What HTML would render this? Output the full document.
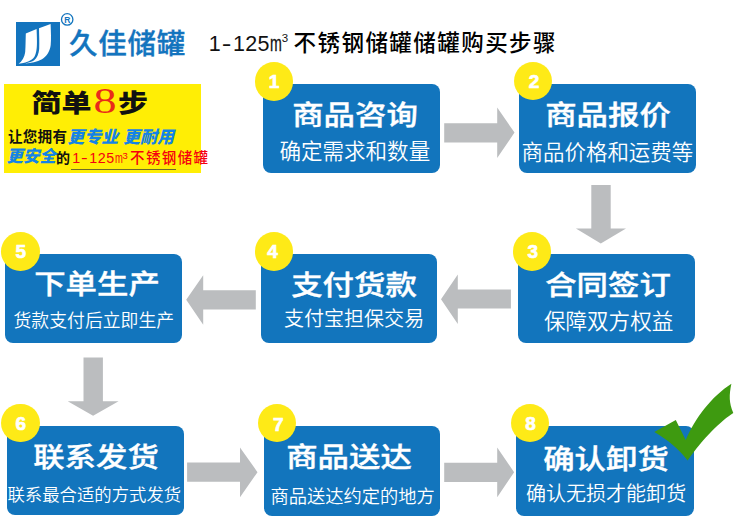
<!DOCTYPE html>
<html lang="zh-CN">
<head>
<meta charset="utf-8">
<title>久佳储罐 购买步骤</title>
<style>
html,body{margin:0;padding:0;background:#fff;}
body{width:735px;height:525px;position:relative;overflow:hidden;font-family:"Liberation Sans","Noto Sans CJK SC",sans-serif;}
.abs{position:absolute;white-space:nowrap;}
.box{position:absolute;background:#1275bd;border-radius:8px;}
.h{position:absolute;color:#fff;font-weight:500;-webkit-text-stroke:0.4px #fff;white-space:nowrap;text-align:center;transform-origin:50% 50%;transform:scale(1.03,0.9);}
.s{position:absolute;color:#fff;font-weight:350;white-space:nowrap;text-align:center;}
.num{position:absolute;width:38.8px;height:38.8px;border-radius:50%;background:#feea17;color:#fff;font-weight:700;font-size:19px;line-height:39.4px;-webkit-text-stroke:0.7px #fff;text-align:center;font-family:"Liberation Sans",sans-serif;}
svg{position:absolute;left:0;top:0;}
.m2{display:inline-block;width:8.5px;text-align:center;font-size:14.3px;letter-spacing:0;}
.mono{display:inline-block;width:12.2px;text-align:center;font-size:21.5px;letter-spacing:0;}
</style>
</head>
<body>
<div class="box" style="left:263.4px;top:84.2px;width:176.6px;height:89.1px;"></div>
<div class="box" style="left:518.8px;top:84.0px;width:177.4px;height:89.4px;"></div>
<div class="box" style="left:518px;top:254.2px;width:177.2px;height:89.0px;"></div>
<div class="box" style="left:260.6px;top:253.8px;width:176.9px;height:89.4px;"></div>
<div class="box" style="left:5.4px;top:253.6px;width:176.6px;height:89.2px;"></div>
<div class="box" style="left:7.0px;top:425.9px;width:176.7px;height:89.3px;"></div>
<div class="box" style="left:263.5px;top:426.0px;width:176.5px;height:90.0px;"></div>
<div class="box" style="left:516.4px;top:426.3px;width:177.5px;height:89.4px;"></div>
<svg width="735" height="525" viewBox="0 0 735 525">
<g fill="#bbbdbf">
<polygon points="444.2,123.2 497.2,123.2 497.2,107.5 514.5,132.6 497.2,158 497.2,142.6 444.2,142.6"/>
<polygon points="591.3,184.9 610.7,184.9 610.7,228.6 626,228.6 600.8,243.6 575.9,228.6 591.3,228.6"/>
<polygon points="510.9,289.4 457.8,289.4 457.8,274.6 441,299.2 457.8,323.9 457.8,308.5 510.9,308.5"/>
<polygon points="255.8,290.2 203.2,290.2 203.2,275.2 186.2,299.8 203.2,324.7 203.2,309.4 255.8,309.4"/>
<polygon points="83.5,357.5 102.9,357.5 102.9,401.2 118.6,401.2 93.1,415.7 67.7,401.2 83.5,401.2"/>
<polygon points="187.1,462.4 240,462.4 240,447.5 257.5,472.2 240,497.2 240,481.8 187.1,481.8"/>
<polygon points="444.2,462.7 497.2,462.7 497.2,447.5 514.1,472.3 497.2,497.2 497.2,482.1 444.2,482.1"/>
</g>
<rect x="16" y="22" width="44" height="44" fill="#1374be"/>
<g fill="#fff">
<path d="M25.8,33.5 L36.6,29 C36.9,38 37.4,46 36.3,51 C35.5,55.5 34,58 31.8,59.6 C28,62.3 23,63.5 18.6,63.8 C22,61.5 24.5,57 25.2,52 C25.6,46 25.6,40 25.8,33.5 Z"/>
<path d="M39,28.2 L50.6,24 C50.9,32 51.3,39 50.7,45 C50,51 47,56 42,59.3 C37,62 31,63 25,63.4 C29,62.6 32.4,61.6 34.2,60.2 C37,58 38.7,54 39.2,49 C39.5,42 39.1,35 39,28.2 Z"/>
</g>
<circle cx="67.2" cy="19.4" r="5.7" fill="none" stroke="#1374be" stroke-width="1.3"/>
<text x="67.3" y="22.5" font-family="Liberation Sans, sans-serif" font-weight="700" font-size="8.5" fill="#1374be" text-anchor="middle">R</text>
</svg>
<div class="abs" style="left:69px;top:27px;font-size:28.5px;line-height:34px;color:#1374be;font-weight:500;letter-spacing:0.75px;-webkit-text-stroke:0.35px #1374be;">久佳储罐</div>
<div class="abs" style="left:208.6px;top:28.5px;font-size:23px;line-height:28px;color:#111;letter-spacing:1px;"><span class="mono">1</span><span class="mono"><span style="display:inline-block;transform:scaleX(1.35)">-</span></span><span class="mono">1</span><span class="mono">2</span><span class="mono">5</span><span style="display:inline-block;font-size:21.5px;letter-spacing:0;transform:scaleX(0.66);margin:0 -3.2px 0 -2.6px;-webkit-text-stroke:0.3px #111;">m</span><sup style="font-size:11.5px;line-height:0;vertical-align:9px;letter-spacing:0;margin-left:0px">3</sup><span style="font-size:10px;letter-spacing:0"> </span><span style="margin-left:2.7px;letter-spacing:1.45px;font-size:22.5px;font-weight:500;position:relative;top:0.7px;color:#000">不锈钢储罐储罐购买步骤</span></div>
<div class="abs" style="left:4px;top:84.2px;width:196.9px;height:89.1px;background:#ffee05;"></div>
<div class="abs" style="left:31.5px;top:83.6px;font-size:30px;line-height:34px;font-weight:900;color:#111;"><span style="display:inline-block;transform:scale(1,0.85);">简单</span><span style="display:inline-block;font-family:'Liberation Serif',serif;font-weight:400;color:#ea2a1a;font-size:36px;transform:scaleX(1.28);margin-left:4px;margin-right:1.5px;">8</span><span style="display:inline-block;transform:scale(1,0.85);margin-left:3px">步</span></div>
<div class="abs" style="left:8px;top:127px;font-size:14.5px;line-height:20px;font-weight:700;color:#111;letter-spacing:0.3px;">让您拥有<span style="position:relative;top:1px;color:#1483e6;font-style:italic;font-size:17px;font-weight:900;letter-spacing:0px;margin-left:0px;">更专业 更耐用</span></div>
<div class="abs" style="left:6.5px;top:146.8px;font-size:14px;line-height:20px;font-weight:700;color:#111;"><span style="position:relative;top:-1.2px;color:#1483e6;font-style:italic;font-size:16.5px;font-weight:900;">更安全</span>的<span style="color:#f5000f;font-weight:400;font-size:14.5px;letter-spacing:1.4px;margin-left:2px;"><span class="m2">1</span><span class="m2"><span style="display:inline-block;transform:scaleX(1.4)">-</span></span><span class="m2">1</span><span class="m2">2</span><span class="m2">5</span><span style="display:inline-block;font-size:14.3px;letter-spacing:0;transform:scaleX(0.66);margin:0 -2.2px 0 -1.8px;">m</span><sup style="font-size:9.5px;line-height:0;vertical-align:4px;letter-spacing:0">3</sup><span style="font-size:6px;letter-spacing:0"> </span><span style="margin-left:0.6px;font-weight:500">不锈钢储罐</span></span></div>
<div class="abs" style="left:71.3px;top:168.5px;width:104.5px;height:1.3px;background:#6e6a2a;"></div>
<div class="h" id="h1" style="left:254.5px;top:95.4px;width:200px;height:40px;line-height:40px;font-size:30.5px;">商品咨询</div>
<div class="s" id="s1" style="left:244.8px;top:137.3px;width:220px;height:30px;line-height:30px;font-size:21.56px;">确定需求和数量</div>
<div class="h" id="h2" style="left:508.2px;top:95.4px;width:200px;height:40px;line-height:40px;font-size:30.5px;">商品报价</div>
<div class="s" id="s2" style="left:497.4px;top:137.6px;width:220px;height:30px;line-height:30px;font-size:21.47px;">商品价格和运费等</div>
<div class="h" id="h3" style="left:507.7px;top:264.6px;width:200px;height:40px;line-height:40px;font-size:30.5px;">合同签订</div>
<div class="s" id="s3" style="left:498.6px;top:306.8px;width:220px;height:30px;line-height:30px;font-size:21.55px;">保障双方权益</div>
<div class="h" id="h4" style="left:254.1px;top:264.9px;width:200px;height:40px;line-height:40px;font-size:30.5px;">支付货款</div>
<div class="s" id="s4" style="left:244.1px;top:304.2px;width:220px;height:30px;line-height:30px;font-size:20.03px;">支付宝担保交易</div>
<div class="h" id="h5" style="left:-3.5px;top:264.0px;width:200px;height:40px;line-height:40px;font-size:30.5px;">下单生产</div>
<div class="s" id="s5" style="left:-16.2px;top:305.8px;width:220px;height:30px;line-height:30px;font-size:17.85px;">货款支付后立即生产</div>
<div class="h" id="h6" style="left:-4.2px;top:437.2px;width:200px;height:40px;line-height:40px;font-size:30.5px;">联系发货</div>
<div class="s" id="s6" style="left:-15.7px;top:479.8px;width:220px;height:30px;line-height:30px;font-size:17.36px;">联系最合适的方式发货</div>
<div class="h" id="h7" style="left:249.0px;top:437.2px;width:200px;height:40px;line-height:40px;font-size:30.5px;">商品送达</div>
<div class="s" id="s7" style="left:242.6px;top:482.4px;width:220px;height:30px;line-height:30px;font-size:18.26px;">商品送达约定的地方</div>
<div class="h" id="h8" style="left:505.9px;top:438.8px;width:200px;height:40px;line-height:40px;font-size:30.5px;">确认卸货</div>
<div class="s" id="s8" style="left:496.1px;top:479.4px;width:220px;height:30px;line-height:30px;font-size:20.03px;">确认无损才能卸货</div>
<div class="num" style="left:254.6px;top:62.0px;"><span style="position:relative;left:0px;top:0px">1</span></div>
<div class="num" style="left:513.5px;top:61.6px;"><span style="position:relative;left:1.1px;top:0px">2</span></div>
<div class="num" style="left:512.5px;top:232.2px;"><span style="position:relative;left:1px;top:0px">3</span></div>
<div class="num" style="left:254.5px;top:232.2px;"><span style="position:relative;left:-1.4px;top:0px">4</span></div>
<div class="num" style="left:1.3px;top:232.2px;"><span style="position:relative;left:0px;top:0px">5</span></div>
<div class="num" style="left:1.3px;top:403.5px;"><span style="position:relative;left:0px;top:0.3px">6</span></div>
<div class="num" style="left:257.6px;top:403.5px;"><span style="position:relative;left:1.4px;top:1.8px">7</span></div>
<div class="num" style="left:510.5px;top:403.5px;"><span style="position:relative;left:0.6px;top:0.3px">8</span></div>
<svg width="735" height="525" viewBox="0 0 735 525">
<path d="M654.3,431.9 L675.8,419.9 L685.7,440.1 C695,418 712,396 731.4,383.7 C729,395 729,403 733.3,412.9 C722,420 703,438 687.6,460.5 C678,448 668,440 654.3,431.9 Z" fill="#3e9a10"/>
</svg>
</body>
</html>
